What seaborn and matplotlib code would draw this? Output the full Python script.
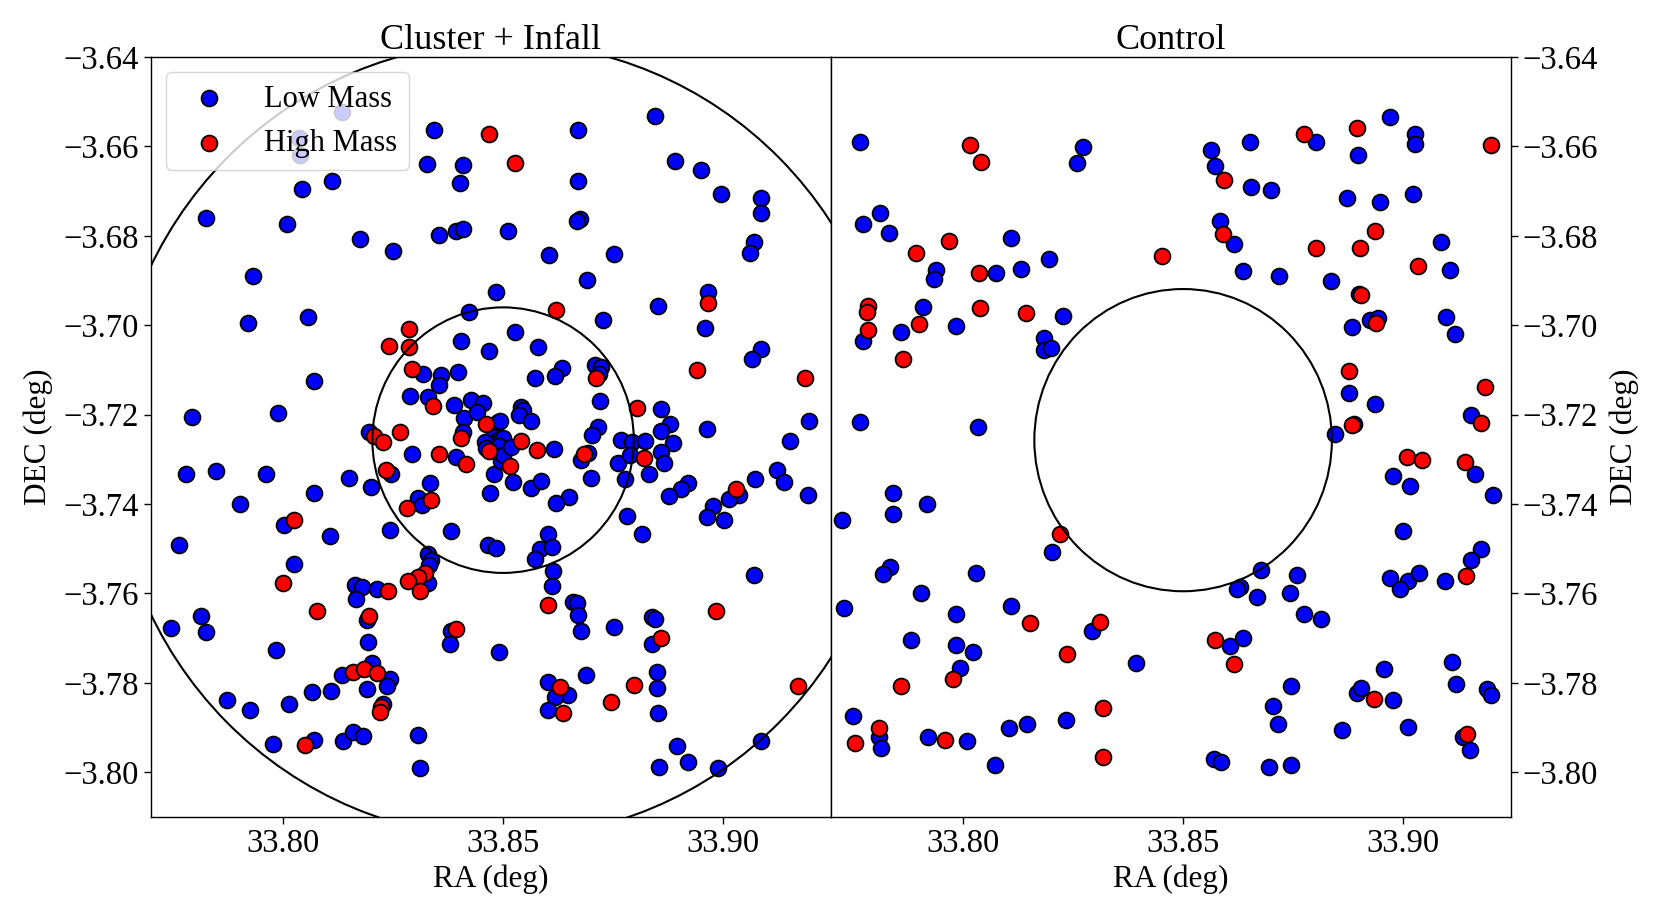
import pandas as pd
import matplotlib
matplotlib.use('Agg')
import matplotlib.pyplot as plt
import seaborn as sns
from matplotlib.patches import Circle

# Galaxy positions (RA, DEC)
cluster_low = [
    (33.8135, -3.6522), (33.8036, -3.6581), (33.8038, -3.6619),
    (33.8342, -3.6563), (33.8327, -3.6639), (33.8408, -3.6641), (33.8401, -3.6682), (33.8112, -3.6678),
    (33.8044, -3.6695), (33.7825, -3.6759), (33.8008, -3.6773), (33.8175, -3.6807), (33.8249, -3.6833),
    (33.8355, -3.6799), (33.8393, -3.6790), (33.8408, -3.6785), (33.8511, -3.6790), (33.7932, -3.6889),
    (33.8484, -3.6925), (33.7920, -3.6994), (33.8056, -3.6982), (33.8423, -3.6970), (33.8405, -3.7035),
    (33.8469, -3.7058), (33.8317, -3.7110), (33.8359, -3.7111), (33.8397, -3.7104), (33.8355, -3.7134),
    (33.8289, -3.7158), (33.8329, -3.7160), (33.8389, -3.7179), (33.8427, -3.7167), (33.8454, -3.7175),
    (33.8412, -3.7208), (33.8488, -3.7216), (33.8494, -3.7214), (33.8070, -3.7125), (33.7793, -3.7205),
    (33.7989, -3.7197), (33.8441, -3.7194),
    (33.8671, -3.6563), (33.8844, -3.6533), (33.8671, -3.6678), (33.8891, -3.6632), (33.8950, -3.6652),
    (33.8996, -3.6707), (33.9085, -3.6716), (33.9085, -3.6748), (33.8674, -3.6763), (33.8667, -3.6766),
    (33.8604, -3.6843), (33.8752, -3.6841), (33.9070, -3.6813), (33.9062, -3.6839), (33.8691, -3.6899),
    (33.8728, -3.6988), (33.8853, -3.6956), (33.8965, -3.6925), (33.8958, -3.7007), (33.9087, -3.7053),
    (33.9066, -3.7076), (33.8528, -3.7014), (33.8579, -3.7048), (33.8633, -3.7096), (33.8617, -3.7114),
    (33.8572, -3.7119), (33.8708, -3.7089), (33.8723, -3.7093), (33.8719, -3.7108), (33.8721, -3.7169),
    (33.8858, -3.7188), (33.8879, -3.7220), (33.8858, -3.7237), (33.8963, -3.7232), (33.9196, -3.7214),
    (33.9151, -3.7259), (33.8541, -3.7182), (33.8545, -3.7190), (33.8537, -3.7201), (33.8564, -3.7214),
    (33.8716, -3.7227), (33.8701, -3.7246), (33.8769, -3.7257), (33.8792, -3.7261), (33.8822, -3.7259),
    (33.8885, -3.7264),
    (33.8762, -3.7308), (33.8788, -3.7291), (33.8858, -3.7283), (33.8866, -3.7309), (33.8832, -3.7332),
    (33.8777, -3.7343), (33.8921, -3.7353), (33.8904, -3.7367), (33.8876, -3.7382), (33.9073, -3.7344),
    (33.9123, -3.7324), (33.9139, -3.7350), (33.9193, -3.7380), (33.9035, -3.7380), (33.9014, -3.7389),
    (33.8978, -3.7404), (33.8963, -3.7430), (33.9001, -3.7436), (33.8782, -3.7427), (33.8815, -3.7468),
    (33.9070, -3.7558), (33.8649, -3.7384), (33.8621, -3.7397), (33.8563, -3.7365), (33.8585, -3.7348),
    (33.8522, -3.7350), (33.8471, -3.7376), (33.8480, -3.7332), (33.8616, -3.7277), (33.8693, -3.7285),
    (33.8678, -3.7302), (33.8699, -3.7341), (33.8601, -3.7466), (33.8583, -3.7500), (33.8610, -3.7497),
    (33.8572, -3.7522), (33.8465, -3.7492), (33.8484, -3.7498), (33.8614, -3.7550), (33.8612, -3.7584),
    (33.8659, -3.7619), (33.8667, -3.7621), (33.8671, -3.7649), (33.8678, -3.7685), (33.8752, -3.7675),
    (33.8838, -3.7653), (33.8844, -3.7658), (33.8839, -3.7712), (33.8490, -3.7730), (33.8601, -3.7797),
    (33.8648, -3.7826), (33.8619, -3.7832), (33.8602, -3.7860), (33.8688, -3.7783), (33.8849, -3.7776),
    (33.8849, -3.7811), (33.8853, -3.7867), (33.9087, -3.7929), (33.8896, -3.7942), (33.8921, -3.7978),
    (33.8855, -3.7987), (33.8988, -3.7990),
    (33.8195, -3.7238), (33.8293, -3.7289), (33.8393, -3.7294), (33.8408, -3.7238), (33.7780, -3.7333),
    (33.7848, -3.7326), (33.7962, -3.7333), (33.7903, -3.7399), (33.8070, -3.7375), (33.8150, -3.7341),
    (33.8199, -3.7362), (33.8245, -3.7332), (33.8335, -3.7352), (33.8306, -3.7386), (33.8315, -3.7403),
    (33.8382, -3.7461), (33.8243, -3.7459), (33.8002, -3.7446), (33.8106, -3.7471), (33.7764, -3.7492),
    (33.8026, -3.7533), (33.8329, -3.7511), (33.8336, -3.7526), (33.8332, -3.7537), (33.8329, -3.7577),
    (33.8164, -3.7580), (33.8179, -3.7586), (33.8165, -3.7613), (33.8213, -3.7591), (33.8190, -3.7659),
    (33.7814, -3.7651), (33.7825, -3.7686), (33.7745, -3.7677), (33.7984, -3.7726), (33.8192, -3.7709),
    (33.8382, -3.7685), (33.8380, -3.7714), (33.8133, -3.7783), (33.8203, -3.7756), (33.8243, -3.7791),
    (33.8236, -3.7806), (33.8190, -3.7813), (33.7873, -3.7838), (33.7924, -3.7860), (33.8013, -3.7848),
    (33.8065, -3.7821), (33.8108, -3.7819), (33.8228, -3.7848), (33.7977, -3.7936), (33.8070, -3.7927),
    (33.8137, -3.7931), (33.8159, -3.7910), (33.8182, -3.7919), (33.8306, -3.7916), (33.8312, -3.7991),
    (33.8478, -3.7250), (33.8488, -3.7257), (33.8495, -3.7262), (33.8482, -3.7265), (33.8500, -3.7252),
    (33.8490, -3.7270), (33.8458, -3.7261), (33.8462, -3.7274), (33.8496, -3.7304), (33.8500, -3.7291),
    (33.8518, -3.7273),
]

cluster_high = [
    (33.8468, -3.6572), (33.8526, -3.6637), (33.8287, -3.7008), (33.8241, -3.7046), (33.8287, -3.7049),
    (33.8294, -3.7098), (33.8340, -3.7180), (33.8462, -3.7220), (33.8620, -3.6966), (33.8965, -3.6951),
    (33.8940, -3.7100), (33.9186, -3.7119), (33.8710, -3.7119), (33.8805, -3.7184), (33.8540, -3.7259),
    (33.8820, -3.7298), (33.9030, -3.7367), (33.8984, -3.7640), (33.8515, -3.7315), (33.8469, -3.7282),
    (33.8577, -3.7279), (33.8684, -3.7287), (33.8602, -3.7625), (33.8859, -3.7699), (33.8629, -3.7810),
    (33.8636, -3.7868), (33.8745, -3.7843), (33.8797, -3.7804), (33.9170, -3.7808),
    (33.8207, -3.7248), (33.8228, -3.7261), (33.8266, -3.7238), (33.8355, -3.7287), (33.8416, -3.7311),
    (33.8405, -3.7253), (33.8234, -3.7323), (33.8336, -3.7390), (33.8281, -3.7408), (33.8024, -3.7435),
    (33.8000, -3.7577), (33.8322, -3.7554), (33.8306, -3.7563), (33.8284, -3.7572), (33.8312, -3.7595),
    (33.8239, -3.7595), (33.8078, -3.7640), (33.8195, -3.7651), (33.8392, -3.7680), (33.8158, -3.7776),
    (33.8184, -3.7768), (33.8213, -3.7777), (33.8222, -3.7854), (33.8221, -3.7866), (33.8049, -3.7938),
]

control_low = [
    (33.7765, -3.6590), (33.8272, -3.6602), (33.8258, -3.6636), (33.7812, -3.6749), (33.7772, -3.6773),
    (33.7831, -3.6793), (33.8110, -3.6805), (33.8195, -3.6852), (33.7939, -3.6876), (33.7933, -3.6897),
    (33.8076, -3.6884), (33.8131, -3.6874), (33.7772, -3.7035), (33.7909, -3.6960), (33.7860, -3.7016),
    (33.7985, -3.7001), (33.8226, -3.6979), (33.8184, -3.7029), (33.8184, -3.7055), (33.8199, -3.7052),
    (33.7765, -3.7216), (33.8034, -3.7227),
    (33.8971, -3.6534), (33.8802, -3.6589), (33.8651, -3.6590), (33.8563, -3.6607), (33.8573, -3.6643),
    (33.8897, -3.6620), (33.9026, -3.6572), (33.9026, -3.6594), (33.8654, -3.6691), (33.8699, -3.6697),
    (33.8872, -3.6716), (33.8948, -3.6725), (33.9022, -3.6706), (33.8583, -3.6766), (33.8615, -3.6818),
    (33.9087, -3.6813), (33.9107, -3.6876), (33.8635, -3.6878), (33.8718, -3.6889), (33.8836, -3.6900),
    (33.8899, -3.6930), (33.8883, -3.7003), (33.8925, -3.6988), (33.8943, -3.6984), (33.9098, -3.6981),
    (33.9117, -3.7020), (33.8878, -3.7152), (33.8936, -3.7176), (33.9153, -3.7201), (33.8889, -3.7222),
    (33.8844, -3.7244),
    (33.7841, -3.7375), (33.7841, -3.7423), (33.7918, -3.7400), (33.7726, -3.7435), (33.8202, -3.7507),
    (33.7833, -3.7541), (33.7818, -3.7556), (33.8030, -3.7554), (33.7905, -3.7600), (33.7730, -3.7632),
    (33.7984, -3.7645), (33.8110, -3.7628), (33.8293, -3.7684), (33.7882, -3.7703), (33.7984, -3.7716),
    (33.8023, -3.7731), (33.7993, -3.7767), (33.8393, -3.7755), (33.7751, -3.7873), (33.7808, -3.7922),
    (33.7814, -3.7945), (33.7920, -3.7922), (33.8009, -3.7931), (33.8104, -3.7901), (33.8146, -3.7893),
    (33.8234, -3.7884), (33.8072, -3.7983),
    (33.8977, -3.7338), (33.9016, -3.7360), (33.9164, -3.7332), (33.9205, -3.7380), (33.8999, -3.7460),
    (33.9177, -3.7501), (33.9153, -3.7526), (33.9096, -3.7571), (33.8969, -3.7565), (33.9010, -3.7571),
    (33.9035, -3.7554), (33.8992, -3.7591), (33.8676, -3.7548), (33.8629, -3.7586), (33.8623, -3.7591),
    (33.8668, -3.7608), (33.8758, -3.7558), (33.8743, -3.7600), (33.8775, -3.7647), (33.8813, -3.7658),
    (33.8606, -3.7718), (33.8636, -3.7699), (33.8956, -3.7768), (33.8895, -3.7823), (33.8905, -3.7812),
    (33.8977, -3.7839), (33.9110, -3.7754), (33.9119, -3.7802), (33.9190, -3.7813), (33.9199, -3.7826),
    (33.8745, -3.7807), (33.8705, -3.7851), (33.8715, -3.7893), (33.8861, -3.7905), (33.9011, -3.7898),
    (33.9136, -3.7922), (33.9151, -3.7950), (33.8570, -3.7970), (33.8585, -3.7978), (33.8695, -3.7989),
    (33.8745, -3.7983),
]

control_high = [
    (33.8015, -3.6596), (33.8041, -3.6635), (33.7894, -3.6839), (33.7967, -3.6811), (33.8452, -3.6846),
    (33.8036, -3.6884), (33.7784, -3.6958), (33.7781, -3.6970), (33.7784, -3.7011), (33.7901, -3.6997),
    (33.8038, -3.6961), (33.8142, -3.6973), (33.7863, -3.7076),
    (33.8895, -3.6559), (33.8775, -3.6572), (33.8592, -3.6676), (33.9200, -3.6596), (33.8591, -3.6796),
    (33.8801, -3.6828), (33.8902, -3.6828), (33.8936, -3.6790), (33.9034, -3.6867), (33.8905, -3.6932),
    (33.8939, -3.6994), (33.8878, -3.7102), (33.9185, -3.7138), (33.9176, -3.7218), (33.8883, -3.7223),
    (33.8221, -3.7468), (33.8152, -3.7665), (33.8311, -3.7664), (33.7977, -3.7791), (33.8236, -3.7735),
    (33.7860, -3.7807), (33.7808, -3.7901), (33.7755, -3.7935), (33.7960, -3.7927), (33.8319, -3.7856),
    (33.8319, -3.7965),
    (33.9009, -3.7294), (33.9043, -3.7302), (33.9140, -3.7306), (33.9142, -3.7561), (33.8572, -3.7703),
    (33.8615, -3.7757), (33.8933, -3.7836), (33.9146, -3.7914),
]

# cluster centre and aperture radii (deg)
center = (33.85, -3.7257)
r_inner = 0.0297
r_outer = 0.089
r_control = 0.0338


def to_df(pts):
    return pd.DataFrame(pts, columns=['RA', 'DEC'])


sns.set_style('ticks', {'axes.edgecolor': 'black', 'xtick.color': 'black',
                        'ytick.color': 'black', 'text.color': 'black',
                        'axes.labelcolor': 'black'})
plt.rcParams['font.family'] = ['Liberation Serif', 'DejaVu Serif']
plt.rcParams['axes.linewidth'] = 1.0

fig, (ax1, ax2) = plt.subplots(1, 2, figsize=(16.61, 9.21), dpi=100)
fig.subplots_adjust(left=0.0909, right=0.9097, bottom=0.1129, top=0.9381, wspace=0)

kw = dict(s=130, edgecolor='black', linewidth=1.3)

sns.scatterplot(data=to_df(cluster_low), x='RA', y='DEC', color='blue', label='Low Mass', ax=ax1, **kw)
sns.scatterplot(data=to_df(cluster_high), x='RA', y='DEC', color='red', label='High Mass', ax=ax1, **kw)
sns.scatterplot(data=to_df(control_low), x='RA', y='DEC', color='blue', ax=ax2, legend=False, **kw)
sns.scatterplot(data=to_df(control_high), x='RA', y='DEC', color='red', ax=ax2, legend=False, **kw)

ax1.add_patch(Circle(center, r_inner, fill=False, ec='black', lw=1.5, zorder=3))
ax1.add_patch(Circle(center, r_outer, fill=False, ec='black', lw=1.5, zorder=3))
ax2.add_patch(Circle(center, r_control, fill=False, ec='black', lw=1.5, zorder=3))

for ax in (ax1, ax2):
    ax.set_xlim(33.77, 33.9245)
    ax.set_ylim(-3.81, -3.64)
    ax.set_xticks([33.80, 33.85, 33.90])
    ax.set_xticklabels(['33.80', '33.85', '33.90'])
    ax.set_yticks([-3.80, -3.78, -3.76, -3.74, -3.72, -3.70, -3.68, -3.66, -3.64])
    ax.tick_params(labelsize=23.5, length=5, width=1.0)
    ax.set_xlabel('RA (deg)', fontsize=22.5)
    ax.set_ylabel('DEC (deg)', fontsize=22.5, labelpad=8)

ax1.set_title('Cluster + Infall', fontsize=26)
ax2.set_title('Control', fontsize=26)

ax2.yaxis.tick_right()
ax2.yaxis.set_label_position('right')

ax1.legend(loc='upper left', fontsize=22)

fig.savefig('out.png', dpi=100)
